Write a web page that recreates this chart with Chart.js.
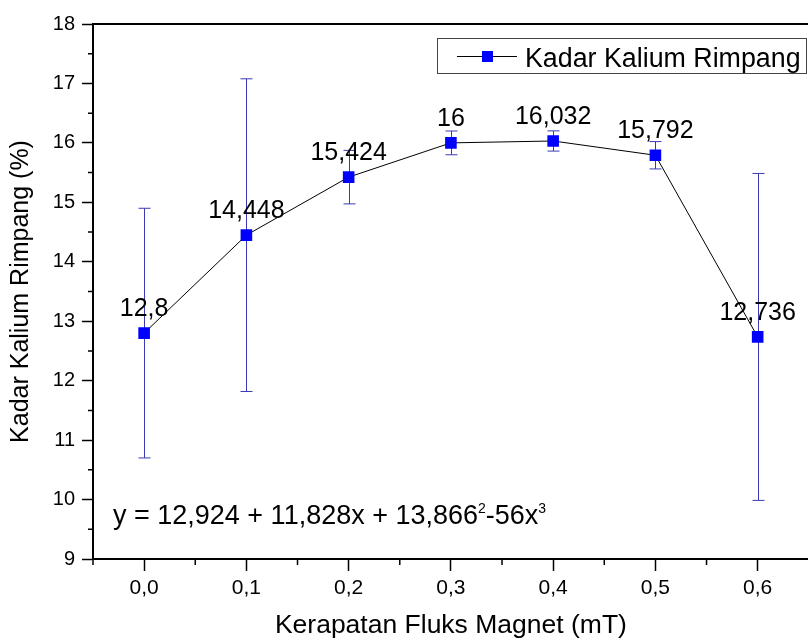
<!DOCTYPE html>
<html>
<head>
<meta charset="utf-8">
<title>Kadar Kalium Rimpang</title>
<script src="https://cdn.jsdelivr.net/npm/chart.js@4.4.1/dist/chart.umd.min.js"></script>
<style>
  html, body { margin: 0; padding: 0; background: #fff; overflow: hidden; }
  #wrap { width: 808px; height: 642px; overflow: hidden; }
</style>
</head>
<body>
<div id="wrap"><canvas id="chartKalium" width="817" height="642"></canvas></div>
<script>
  // ===== Data =====
  const fluxValues   = [0.0, 0.1, 0.2, 0.3, 0.4, 0.5, 0.6];
  const kaliumValues = [12.8, 14.448, 15.424, 16, 16.032, 15.792, 12.736];
  const kaliumErrors = [2.1, 2.63, 0.45, 0.2, 0.17, 0.23, 2.75];
  const pointLabels  = ['12,8', '14,448', '15,424', '16', '16,032', '15,792', '12,736'];
  const xTickValues  = [0.0, 0.1, 0.2, 0.3, 0.4, 0.5, 0.6];
  const yTickValues  = [9, 10, 11, 12, 13, 14, 15, 16, 17, 18];

  const fontFamily = "'Liberation Sans', Arial, sans-serif";
  const errColor   = '#3a3ab4';

  // ===== Extra drawing: error bars, labels, minor ticks, legend, equation =====
  const decorPlugin = {
    id: 'decor',
    beforeDatasetsDraw(chart) {
      const { ctx } = chart;
      const xs = chart.scales.x, ys = chart.scales.y;
      ctx.save();
      ctx.strokeStyle = errColor;
      ctx.lineWidth = 1;
      fluxValues.forEach((fx, i) => {
        const px = Math.round(xs.getPixelForValue(fx)) + 0.5;
        const top = ys.getPixelForValue(kaliumValues[i] + kaliumErrors[i]);
        const bot = ys.getPixelForValue(kaliumValues[i] - kaliumErrors[i]);
        ctx.beginPath();
        ctx.moveTo(px, top); ctx.lineTo(px, bot);
        ctx.moveTo(px - 6, top); ctx.lineTo(px + 6, top);
        ctx.moveTo(px - 6, bot); ctx.lineTo(px + 6, bot);
        ctx.stroke();
      });
      ctx.restore();
    },
    afterDraw(chart) {
      const { ctx, chartArea } = chart;
      const xs = chart.scales.x, ys = chart.scales.y;
      ctx.save();

      // top frame line
      ctx.strokeStyle = '#000';
      ctx.lineWidth = 2;
      ctx.beginPath();
      ctx.moveTo(chartArea.left - 1, chartArea.top);
      ctx.lineTo(chartArea.right, chartArea.top);
      ctx.stroke();

      // minor ticks
      ctx.lineWidth = 1.5;
      ctx.beginPath();
      for (let v = 9.5; v < 18; v += 1) {
        const py = ys.getPixelForValue(v);
        ctx.moveTo(chartArea.left - 5, py); ctx.lineTo(chartArea.left, py);
      }
      for (let v = -0.05; v < 0.65; v += 0.1) {
        const px = xs.getPixelForValue(v);
        ctx.moveTo(px, chartArea.bottom); ctx.lineTo(px, chartArea.bottom + 6);
      }
      ctx.stroke();

      // value labels
      ctx.fillStyle = '#000';
      ctx.font = '25px ' + fontFamily;
      ctx.textAlign = 'center';
      ctx.textBaseline = 'alphabetic';
      fluxValues.forEach((fx, i) => {
        ctx.fillText(pointLabels[i], xs.getPixelForValue(fx), ys.getPixelForValue(kaliumValues[i]) - 17);
      });

      // regression equation
      ctx.textAlign = 'left';
      let ex = 113;
      const ey = 524;
      const parts = [
        ['y = 12,924 + 11,828x + 13,866', 27, 0],
        ['2', 14, -11],
        ['-56x', 27, 0],
        ['3', 14, -11],
      ];
      parts.forEach(([t, size, dy]) => {
        ctx.font = size + 'px ' + fontFamily;
        ctx.fillText(t, ex, ey + dy);
        ex += ctx.measureText(t).width;
      });

      // legend box
      ctx.strokeStyle = '#444';
      ctx.lineWidth = 1;
      ctx.strokeRect(437.5, 38.5, 369, 35);
      ctx.strokeStyle = '#000';
      ctx.beginPath();
      ctx.moveTo(457, 56.5); ctx.lineTo(517, 56.5);
      ctx.stroke();
      ctx.fillStyle = '#0000ff';
      ctx.fillRect(482, 51, 11, 11);
      ctx.fillStyle = '#000';
      ctx.font = '26.8px ' + fontFamily;
      ctx.fillText('Kadar Kalium Rimpang', 525, 67);

      ctx.restore();
    },
  };

  // ===== Chart =====
  const ctxKalium = document.getElementById('chartKalium').getContext('2d');
  new Chart(ctxKalium, {
    type: 'scatter',
    data: {
      datasets: [{
        label: 'Kadar Kalium Rimpang',
        data: fluxValues.map((fx, i) => ({ x: fx, y: kaliumValues[i] })),
        showLine: true,
        borderColor: '#000',
        borderWidth: 1,
        tension: 0,
        pointStyle: 'rect',
        pointRadius: 8.2,
        pointBackgroundColor: '#0000ff',
        pointBorderWidth: 0,
      }],
    },
    options: {
      responsive: false,
      animation: false,
      layout: { padding: { top: 24, left: 0, right: 0, bottom: 0 } },
      plugins: {
        legend: { display: false },
        tooltip: { enabled: false },
      },
      scales: {
        x: {
          type: 'linear',
          min: -0.05,
          max: 0.65,
          afterFit: scale => { scale.height = 83; },
          afterBuildTicks: scale => { scale.ticks = xTickValues.map(v => ({ value: v })); },
          border: { display: true, color: '#000', width: 2 },
          grid: { drawOnChartArea: false, drawTicks: true, tickLength: 12, tickColor: '#000', tickWidth: 1.5 },
          ticks: {
            color: '#000',
            padding: 5,
            maxRotation: 0,
            font: { family: fontFamily, size: 21 },
            callback: v => v.toFixed(1).replace('.', ','),
          },
          title: {
            display: true,
            text: 'Kerapatan Fluks Magnet (mT)',
            color: '#000',
            font: { family: fontFamily, size: 26.5 },
            padding: { top: 0, bottom: 0 },
          },
        },
        y: {
          min: 9,
          max: 18,
          afterFit: scale => { scale.width = 93; },
          afterBuildTicks: scale => { scale.ticks = yTickValues.map(v => ({ value: v })); },
          border: { display: true, color: '#000', width: 2 },
          grid: { drawOnChartArea: false, drawTicks: true, tickLength: 11, tickColor: '#000', tickWidth: 1.5 },
          ticks: {
            color: '#000',
            padding: 7,
            font: { family: fontFamily, size: 20 },
            callback: v => String(v),
          },
          title: {
            display: true,
            text: 'Kadar Kalium Rimpang (%)',
            color: '#000',
            font: { family: fontFamily, size: 25 },
            padding: { top: 6, bottom: 0 },
          },
        },
      },
    },
    plugins: [decorPlugin],
  });
</script>
</body>
</html>
